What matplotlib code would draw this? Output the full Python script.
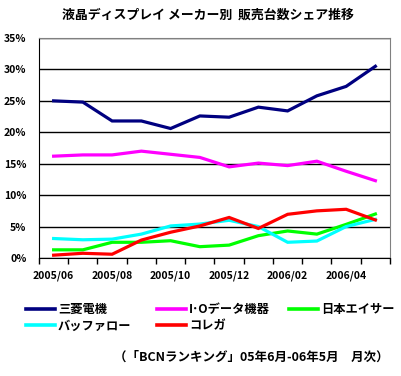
import matplotlib
matplotlib.use("Agg")
import matplotlib.pyplot as plt
from matplotlib.ticker import FixedLocator, NullFormatter

plt.rcParams['font.family'] = ['Noto Sans CJK JP', 'DejaVu Sans']

months = ["2005/06", "2005/07", "2005/08", "2005/09", "2005/10", "2005/11",
          "2005/12", "2006/01", "2006/02", "2006/03", "2006/04", "2006/05"]
mitsubishi = [25.0, 24.8, 21.8, 21.8, 20.6, 22.6, 22.4, 24.0, 23.4, 25.8, 27.3, 30.5]
iodata = [16.2, 16.4, 16.4, 17.0, 16.5, 16.0, 14.5, 15.1, 14.7, 15.4, 13.8, 12.3]
acer = [1.3, 1.3, 2.5, 2.5, 2.75, 1.8, 2.05, 3.55, 4.3, 3.8, 5.35, 7.0]
buffalo = [3.1, 2.9, 3.0, 3.8, 5.1, 5.4, 6.0, 5.0, 2.5, 2.7, 5.0, 6.15]
corega = [0.45, 0.75, 0.6, 2.85, 4.1, 5.1, 6.45, 4.7, 6.95, 7.5, 7.75, 6.05]

series = [("三菱電機", mitsubishi, "#000080"),
          ("I･Oデータ機器", iodata, "#FF00FF"),
          ("日本エイサー", acer, "#00FF00"),
          ("バッファロー", buffalo, "#00FFFF"),
          ("コレガ", corega, "#FF0000")]

W, H = 402, 376
fig = plt.figure(figsize=(W / 100, H / 100), dpi=100)
ax = fig.add_axes([39 / W, 1 - 258 / H, (390 - 39) / W, (258 - 38) / H])

x = list(range(len(months)))
handles = {}
for name, vals, col in series:
    h, = ax.plot(x, vals, color=col, lw=2.3, solid_joinstyle='miter', label=name)
    handles[name] = h

ax.set_xlim(-0.5, len(months) - 0.5)
ax.set_ylim(0, 35)
ax.set_yticks(range(0, 36, 5))
ax.set_yticklabels([f"{v}%" for v in range(0, 36, 5)], fontsize=7.5, fontweight='bold')
ax.tick_params(axis='y', length=0, pad=9)
ax.yaxis.grid(True, color='black', lw=1)
ax.set_axisbelow(True)

ax.xaxis.set_major_locator(FixedLocator([i - 0.5 for i in range(len(months) + 1)]))
ax.xaxis.set_major_formatter(NullFormatter())
ax.xaxis.set_minor_locator(FixedLocator(x[::2]))
ax.set_xticklabels(months[::2], minor=True, fontsize=7.5, fontweight='bold')
ax.tick_params(axis='x', which='major', length=4, width=1, color='black', direction='out')
ax.tick_params(axis='x', which='minor', length=0, pad=9)

for s in ['top', 'right']:
    ax.spines[s].set_color('#808080')
for s in ['left', 'bottom']:
    ax.spines[s].set_color('black')

fig.text(208 / W, 1 - 15 / H, "液晶ディスプレイ メーカー別  販売台数シェア推移",
         ha='center', va='center', fontsize=9.3, fontweight='bold')

columns = [(["三菱電機", "バッファロー"], 26),
           (["I･Oデータ機器", "コレガ"], 157),
           (["日本エイサー"], 289)]
for names, xl in columns:
    leg = fig.legend([handles[n] for n in names], names, ncol=1,
                     loc='upper left', bbox_to_anchor=(xl / W, 1 - 303 / H),
                     frameon=False, fontsize=8.8, handlelength=2.4, handletextpad=0.2,
                     labelspacing=0.3, borderpad=0, borderaxespad=0)
    for t in leg.get_texts():
        t.set_fontweight('bold')
    for l in leg.get_lines():
        l.set_linewidth(2.6)

fig.text(389 / W, 1 - 357 / H, "（「BCNランキング」05年6月-06年5月　月次）",
         ha='right', va='center', fontsize=9, fontweight='bold')

fig.savefig("out.png", dpi=100)
